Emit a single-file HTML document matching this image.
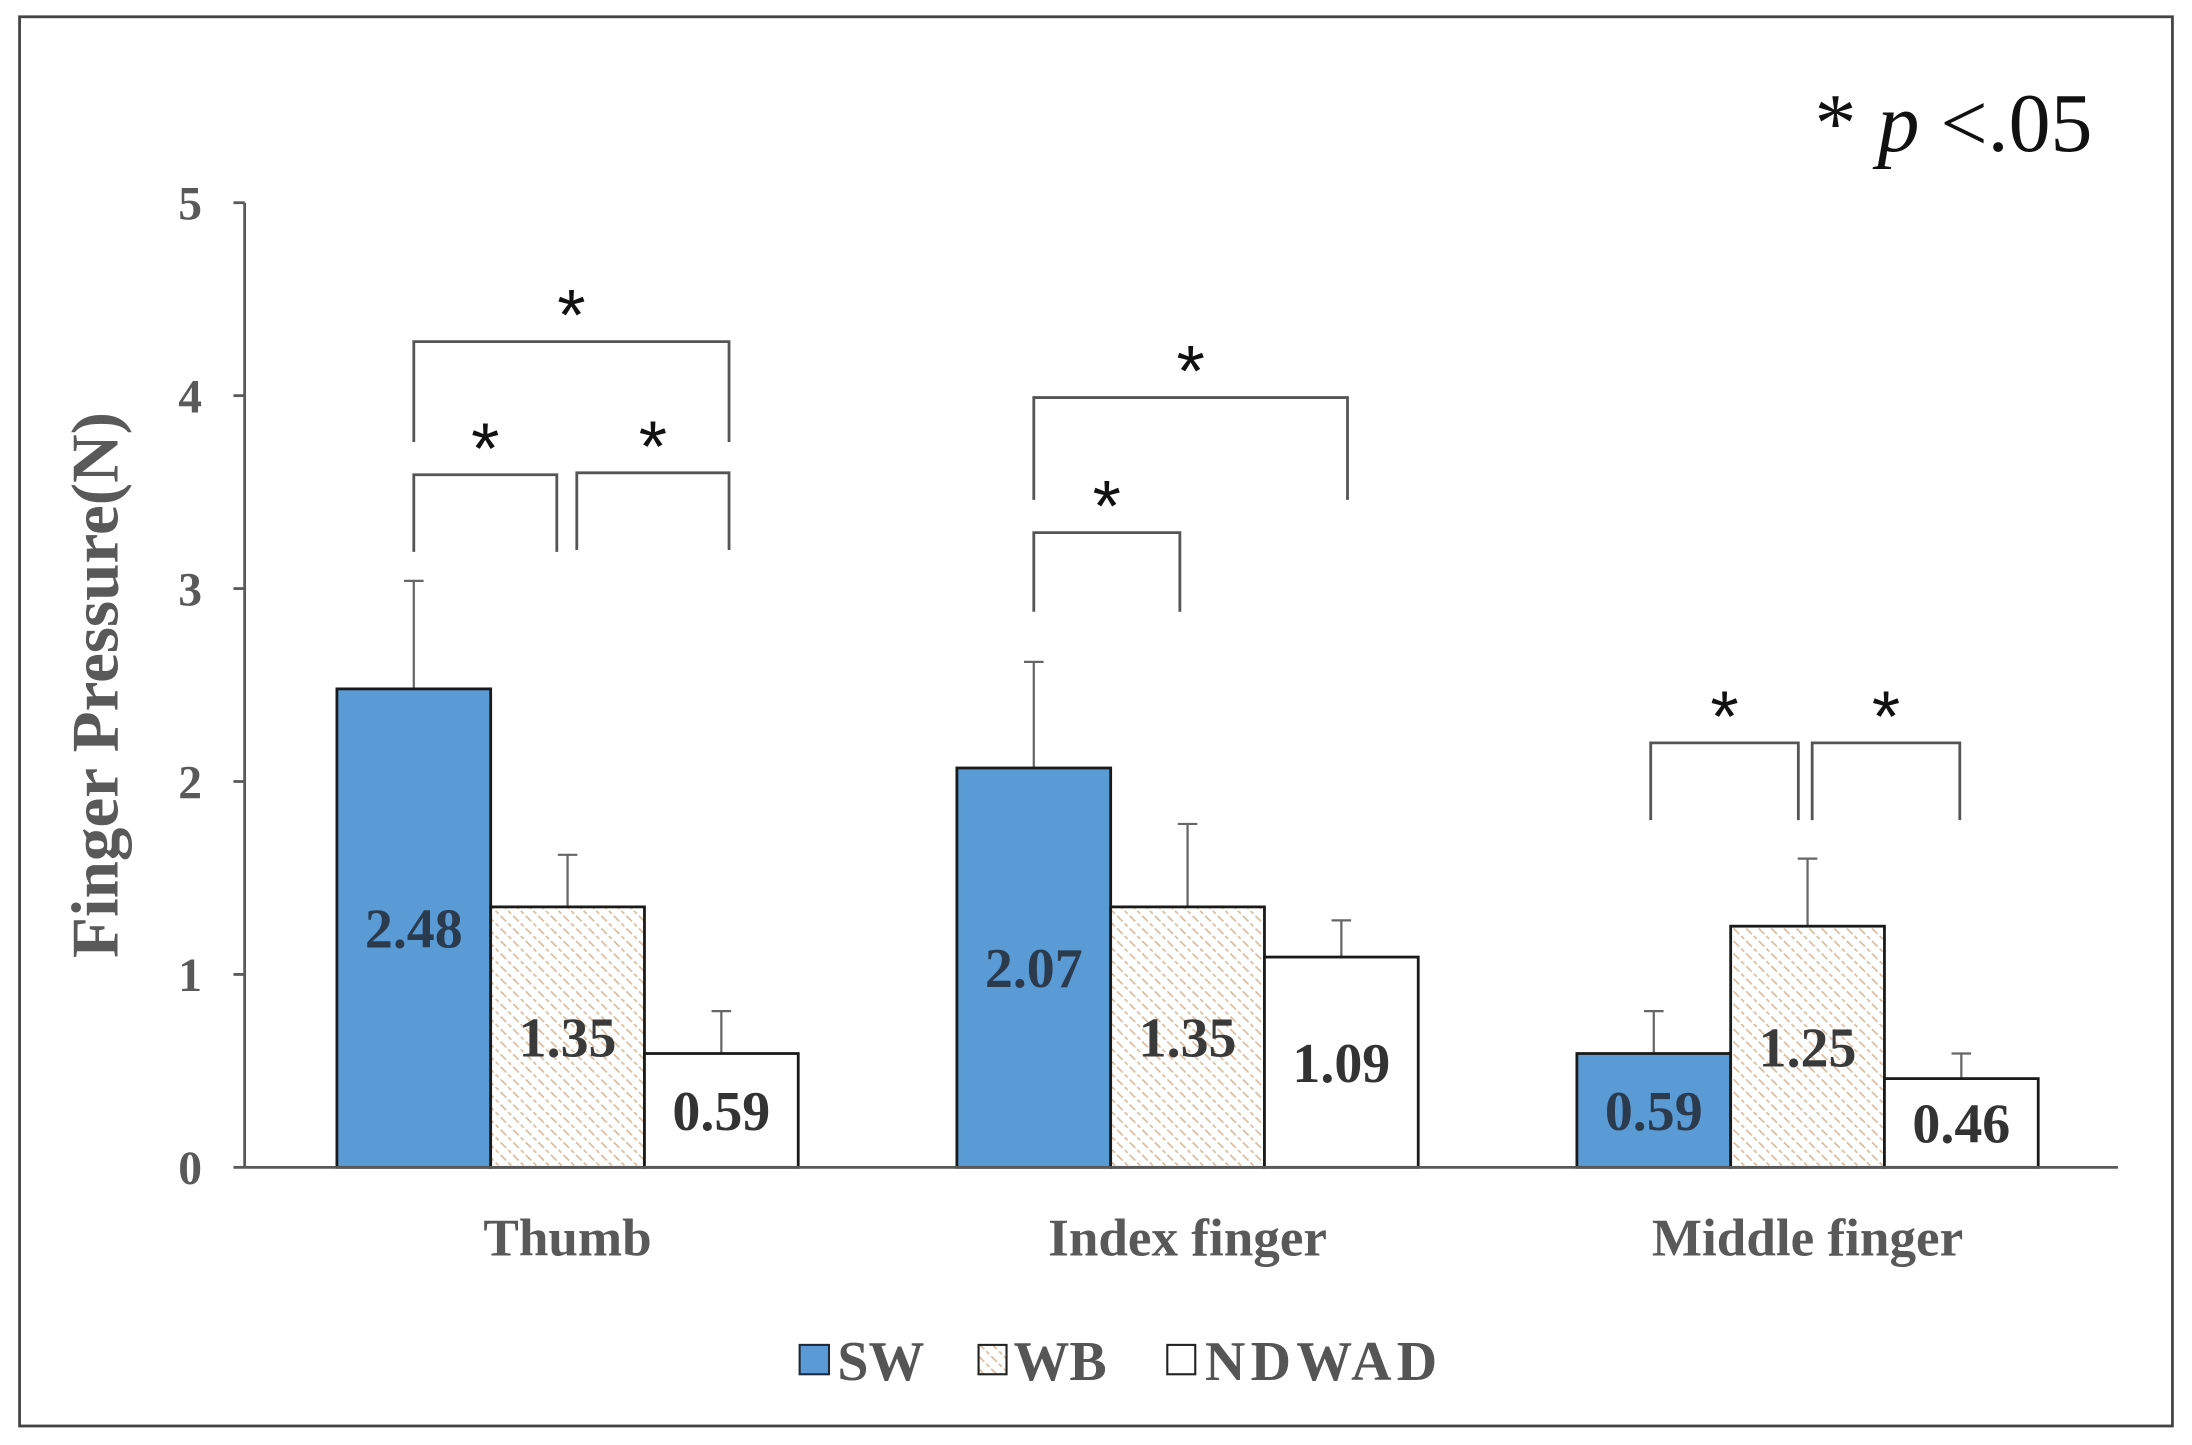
<!DOCTYPE html>
<html><head><meta charset="utf-8"><style>
html,body{margin:0;padding:0;background:#fff;}
svg{display:block;}
</style></head><body>
<svg id="chart" xmlns="http://www.w3.org/2000/svg" width="2192" height="1445" viewBox="0 0 1568 1033.6" preserveAspectRatio="none">
<defs>
<pattern id="hatch" patternUnits="userSpaceOnUse" width="9" height="9">
<rect width="9" height="9" fill="#fff"/>
<path d="M0,0 L9,9 M-4.5,4.5 L4.5,13.5 M4.5,-4.5 L13.5,4.5" stroke="#d8bc9e" stroke-width="1.2" stroke-dasharray="3,2"/>
</pattern>
</defs>
<rect x="14" y="12" width="1540" height="1008" fill="#fff" stroke="#444" stroke-width="2"/>
<g id="plot"></g>
<text x="1298" y="108" font-family="Liberation Serif, serif" font-size="60" fill="#111">* <tspan font-style="italic">p</tspan> &lt;.05</text>
<g font-family="Liberation Serif, serif" font-weight="bold" font-size="40" fill="#555">
<rect x="572" y="962" width="21" height="21" fill="#5b9bd5" stroke="#1f2a3a" stroke-width="1.5"/>
<text x="599" y="987">SW</text>
<rect x="700" y="962" width="20" height="21" fill="url(#hatch)" stroke="#222" stroke-width="1.5"/>
<text x="725" y="987">WB</text>
<rect x="835" y="962" width="20" height="21" fill="#fff" stroke="#222" stroke-width="1.5"/>
<text x="862" y="987" textLength="166">NDWAD</text>
</g>
</svg>
<script>
const categories = ["Thumb", "Index finger", "Middle finger"];
const seriesNames = ["SW", "WB", "NDWAD"];
const swValues = [2.48, 2.07, 0.59];
const wbValues = [1.35, 1.35, 1.25];
const ndwadValues = [0.59, 1.09, 0.46];
const swErrors = [0.56, 0.55, 0.22];
const wbErrors = [0.27, 0.43, 0.35];
const ndwadErrors = [0.22, 0.19, 0.13];
const yTicks = [0, 1, 2, 3, 4, 5];
// significance brackets: group, fromBar, toBar, top value, leg-bottom value
const sigGroups = [0, 0, 0, 1, 1, 2, 2];
const sigFrom = [0, 0, 1.06, 0, 0, -0.02, 1.03];
const sigTo = [2.05, 0.93, 2.05, 2.04, 0.95, 0.94, 1.99];
const sigTop = [4.28, 3.59, 3.60, 3.99, 3.29, 2.20, 2.20];
const sigBottom = [3.76, 3.19, 3.20, 3.46, 2.88, 1.80, 1.80];

const NS = "http://www.w3.org/2000/svg";
const plot = document.getElementById('plot');
const axX = 175, y0 = 835, y5 = 145, axEnd = 1515;
const groupStart0 = 241, groupStep = 443.5, barW = 110;
function yScale(v){ return y0 - (v / 5) * (y0 - y5); }
function barLeft(g, b){ return groupStart0 + g * groupStep + b * barW; }
function barCenter(g, b){ return barLeft(g, b) + barW / 2; }
function mk(tag, attrs){ const e = document.createElementNS(NS, tag); for (const k in attrs) e.setAttribute(k, attrs[k]); plot.appendChild(e); return e; }

let ax = mk('line', {x1: axX, y1: y5, x2: axX, y2: y0, stroke: '#595959', 'stroke-width': 2});


yTicks.forEach(t => {
  const y = yScale(t);
  const tk = mk('line', {x1: axX - 8, y1: y, x2: axX, y2: y, stroke: '#595959', 'stroke-width': 2});
  
  
  const lb = mk('text', {x: 136, y: y + 12, 'text-anchor': 'middle', 'font-family': 'Liberation Serif, serif', 'font-weight': 'bold', 'font-size': 34, fill: '#595959'});
  lb.textContent = t;
  
  
});
const yt = mk('text', {x: 0, y: 0, transform: 'translate(84,490) rotate(-90)', 'text-anchor': 'middle', 'font-family': 'Liberation Serif, serif', 'font-weight': 'bold', 'font-size': 48, fill: '#595959'});
yt.textContent = 'Finger Pressure(N)';



const vals = [swValues, wbValues, ndwadValues];
const errs = [swErrors, wbErrors, ndwadErrors];
const fills = ['#5b9bd5', 'url(#hatch)', '#fff'];
const labelColors = ['#2b3a4d', '#3a3a3a', '#333'];
categories.forEach((c, g) => {
  for (let b = 0; b < 3; b++) {
    const v = vals[b][g], e = errs[b][g];
    const cx = barCenter(g, b);
    const el = mk('line', {x1: cx, y1: yScale(v), x2: cx, y2: yScale(v + e), stroke: '#666', 'stroke-width': 1.6});
    
    
    const cap = mk('line', {x1: cx - 7, y1: yScale(v + e), x2: cx + 7, y2: yScale(v + e), stroke: '#666', 'stroke-width': 1.6});
    
    
    const r = mk('rect', {x: barLeft(g, b), y: yScale(v), width: barW, height: yScale(0) - yScale(v), fill: fills[b], stroke: '#1a1a1a', 'stroke-width': 2});
    
    
    const t = mk('text', {x: cx, y: yScale(v / 2) + 14, 'text-anchor': 'middle', 'font-family': 'Liberation Serif, serif', 'font-weight': 'bold', 'font-size': 40, fill: labelColors[b]});
    t.textContent = v.toFixed(2);
    
    
  }
  const cl = mk('text', {x: barCenter(g, 1), y: 898, 'text-anchor': 'middle', 'font-family': 'Liberation Serif, serif', 'font-weight': 'bold', 'font-size': 38, fill: '#595959'});
  cl.textContent = c;
  
  
});
const xa = mk('line', {x1: axX, y1: y0, x2: axEnd, y2: y0, stroke: '#595959', 'stroke-width': 2});



sigGroups.forEach((g, i) => {
  const x1 = barCenter(g, sigFrom[i]), x2 = barCenter(g, sigTo[i]);
  const top = yScale(sigTop[i]), bot = yScale(sigBottom[i]);
  const p = mk('path', {d: `M${x1},${bot} L${x1},${top} L${x2},${top} L${x2},${bot}`, fill: 'none', stroke: '#555', 'stroke-width': 2});
  
  
  const s = mk('text', {x: (x1 + x2) / 2, y: top - 1, 'text-anchor': 'middle', 'font-family': 'Liberation Sans, sans-serif', 'font-size': 52, fill: '#111'});
  s.textContent = '*';
  
  
});
</script>
</body></html>
